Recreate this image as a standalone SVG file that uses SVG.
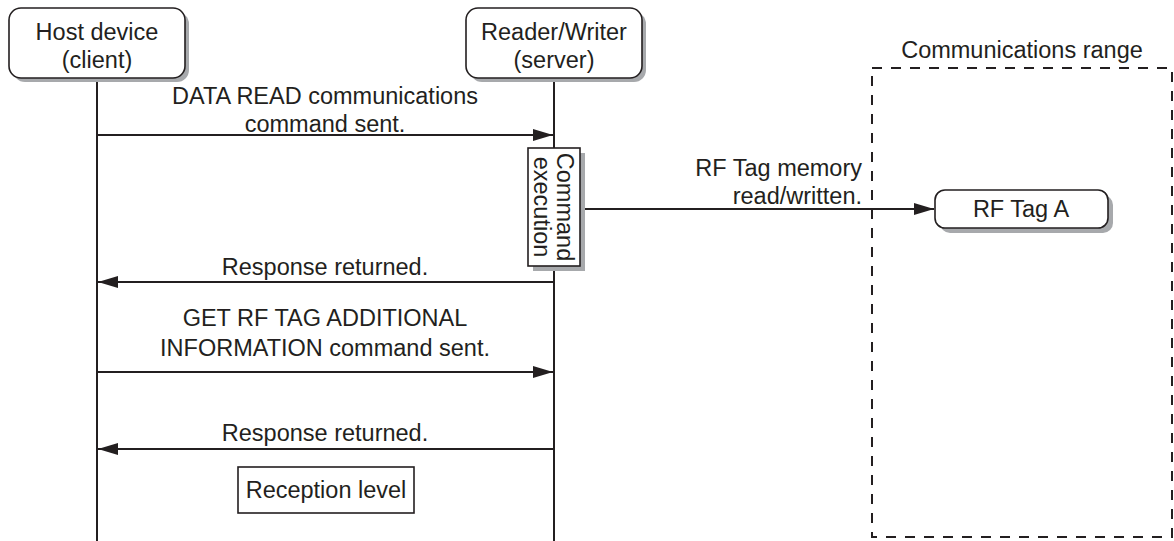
<svg xmlns="http://www.w3.org/2000/svg" width="1174" height="541" viewBox="0 0 1174 541">
<style>
text{font-family:"Liberation Sans",Arial,sans-serif;font-size:23.5px;fill:#231f20}
.c{text-anchor:middle}
.r{text-anchor:end}
.box{fill:#fff;stroke:#231f20;stroke-width:1.6}
.sh{fill:#a7a9ac}
.ln{stroke:#231f20;stroke-width:2;fill:none}
.dash{stroke:#231f20;stroke-width:2;fill:none;stroke-dasharray:10 9}
</style>
<defs>
<marker id="ah" viewBox="0 0 20 12" refX="20" refY="6" markerWidth="20" markerHeight="12" markerUnits="userSpaceOnUse" orient="auto">
<path d="M0,0 L20,6 L0,12 Z" fill="#231f20"/>
</marker>
</defs>
<g id="range">
<rect class="dash" x="872" y="68" width="300" height="469"/>
<text class="c" x="1022" y="58">Communications range</text>
</g>
<g id="lifelines">
<line class="ln" x1="97" y1="78" x2="97" y2="541"/>
<line class="ln" x1="554" y1="78" x2="554" y2="541"/>
</g>
<g id="host">
<rect class="sh" x="13" y="12" width="176" height="70" rx="12"/>
<rect class="box" x="9" y="8" width="176" height="70" rx="12"/>
<text class="c" x="97" y="40">Host device</text>
<text class="c" x="97" y="68">(client)</text>
</g>
<g id="reader">
<rect class="sh" x="470" y="12" width="176" height="70" rx="12"/>
<rect class="box" x="466" y="8" width="176" height="70" rx="12"/>
<text class="c" x="554" y="40">Reader/Writer</text>
<text class="c" x="554" y="68">(server)</text>
</g>
<g id="connectors">
<line class="ln" x1="97" y1="135" x2="553" y2="135" marker-end="url(#ah)"/>
<line class="ln" x1="580" y1="209" x2="934" y2="209" marker-end="url(#ah)"/>
<line class="ln" x1="554" y1="282" x2="98" y2="282" marker-end="url(#ah)"/>
<line class="ln" x1="97" y1="372" x2="553" y2="372" marker-end="url(#ah)"/>
<line class="ln" x1="554" y1="449" x2="98" y2="449" marker-end="url(#ah)"/>
</g>
<g id="labels">
<text class="c" x="325" y="104">DATA READ communications</text>
<text class="c" x="325" y="132">command sent.</text>
<text class="r" x="862" y="176">RF Tag memory</text>
<text class="r" x="862" y="204">read/written.</text>
<text class="c" x="325" y="275">Response returned.</text>
<text class="c" x="325" y="326">GET RF TAG ADDITIONAL</text>
<text class="c" x="325" y="356">INFORMATION command sent.</text>
<text class="c" x="325" y="441">Response returned.</text>
</g>
<g id="command">
<rect class="sh" x="533" y="153" width="52" height="118"/>
<rect class="box" x="528" y="148" width="52" height="118"/>
<text class="c" transform="translate(554 207) rotate(90)" y="-3">Command</text>
<text class="c" transform="translate(554 207) rotate(90)" y="20">execution</text>
</g>
<g id="rftag">
<rect class="sh" x="940" y="195" width="173" height="38" rx="10"/>
<rect class="box" x="935" y="190" width="173" height="38" rx="10"/>
<text class="c" x="1021" y="217">RF Tag A</text>
</g>
<g id="reception">
<rect class="box" x="238" y="467" width="176" height="46"/>
<text class="c" x="326" y="498">Reception level</text>
</g>
</svg>
